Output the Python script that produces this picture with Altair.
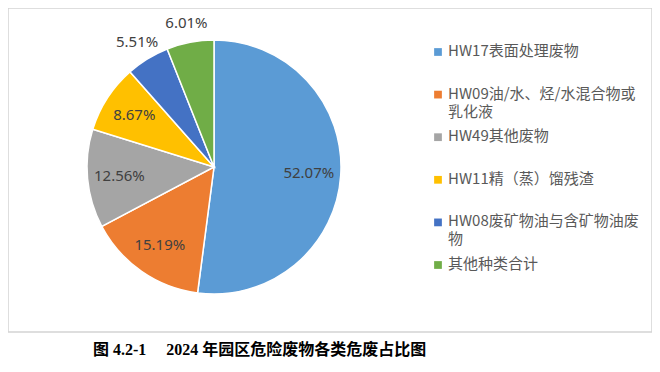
import altair as alt
import pandas as pd

categories = [
    "HW17表面处理废物",
    "HW09油/水、烃/水混合物或乳化液",
    "HW49其他废物",
    "HW11精（蒸）馏残渣",
    "HW08废矿物油与含矿物油废物",
    "其他种类合计",
]
legend_labels = [
    "HW17表面处理废物",
    "HW09油/水、烃/水混合物或\n乳化液",
    "HW49其他废物",
    "HW11精（蒸）馏残渣",
    "HW08废矿物油与含矿物油废\n物",
    "其他种类合计",
]
percentages = [52.07, 15.19, 12.56, 8.67, 5.51, 6.01]
colors = ["#5B9BD5", "#ED7D31", "#A5A5A5", "#FFC000", "#4472C4", "#70AD47"]

df = pd.DataFrame({
    "cat": categories,
    "label": legend_labels,
    "pct": percentages,
    "idx": list(range(len(categories))),
})
df["pct_text"] = [f"{v:.2f}%" for v in percentages]

color_scale = alt.Scale(domain=categories, range=colors)
cx, cy = 206, 159

base = alt.Chart(df)

pie = base.mark_arc(radius=127, stroke="white", strokeWidth=1.5).encode(
    theta=alt.Theta("pct:Q", stack=True),
    order=alt.Order("idx:Q"),
    color=alt.Color("cat:N", scale=color_scale, legend=None),
    x=alt.value(cx),
    y=alt.value(cy),
)

pie_labels = base.transform_window(
    cum="sum(pct)", sort=[alt.SortField("idx", order="ascending")], frame=[None, 0]
).transform_joinaggregate(
    total="sum(pct)"
).transform_calculate(
    mid="(datum.cum - datum.pct / 2) / datum.total * 2 * PI",
    lr="datum.pct >= 8 ? 95 : 147",
).mark_text(font="Noto Sans", fontSize=15, color="#404040").encode(
    theta=alt.Theta("mid:Q", scale=None),
    radius=alt.Radius("lr:Q", scale=None),
    text="pct_text:N",
    x=alt.value(cx),
    y=alt.value(cy),
)

yscale = alt.Scale(domain=categories, type="point", range=[44, 257], padding=0)

legend_sq = base.mark_square(size=60, opacity=1).encode(
    x=alt.value(430),
    y=alt.Y("cat:N", scale=yscale, axis=None),
    color=alt.Color("cat:N", scale=color_scale, legend=None),
)

legend_txt = base.mark_text(
    align="left", baseline="line-top", dy=-9, lineBreak="\n", lineHeight=18,
    font="Noto Sans CJK SC", fontSize=15, color="#595959",
).encode(
    x=alt.value(440),
    y=alt.Y("cat:N", scale=yscale, axis=None),
    text="label:N",
)

chart = alt.layer(pie, pie_labels, legend_sq, legend_txt).properties(
    width=644,
    height=324,
    padding={"left": 0, "top": 0, "right": 0, "bottom": 4},
    title=alt.TitleParams(
        "图 4.2-1　 2024 年园区危险废物各类危废占比图",
        orient="bottom",
        anchor="start",
        dx=85,
        offset=10,
        font="'Liberation Serif', 'Noto Sans CJK SC'",
        fontSize=16,
        fontWeight="bold",
        color="#000000",
    ),
).configure_view(stroke="#D4D4D4", strokeWidth=1.5)

chart.save("out.html", embed_options={"renderer": "svg", "actions": False})
